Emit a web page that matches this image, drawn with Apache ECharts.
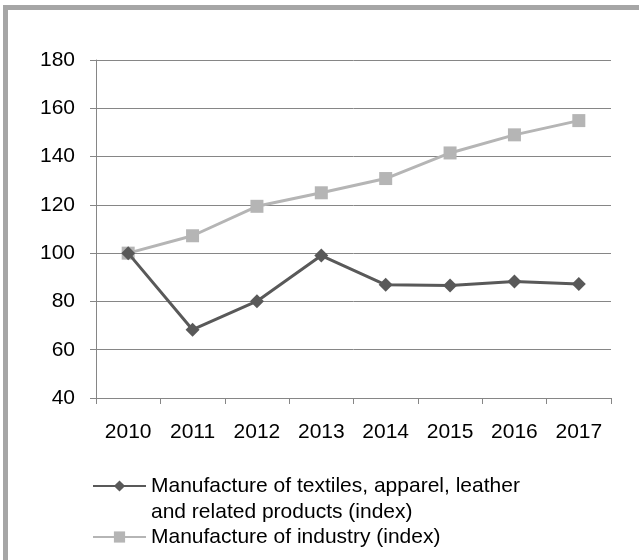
<!DOCTYPE html>
<html>
<head>
<meta charset="utf-8">
<script src="https://cdn.jsdelivr.net/npm/echarts@6/dist/echarts.min.js"></script>
<style>
html,body{margin:0;padding:0;background:#fff;}
#chart{width:639px;height:560px;}
</style>
</head>
<body>
<div id="chart"></div>
<script>
const categories = ['2010','2011','2012','2013','2014','2015','2016','2017'];
const textiles = [100, 68.3, 80.1, 99.0, 86.9, 86.6, 88.3, 87.2];
const industry = [100, 107.2, 119.4, 125.0, 130.9, 141.5, 149.0, 154.9];
const yTicks = {min: 40, max: 180, interval: 20};
const nameTextiles = 'Manufacture of textiles, apparel, leather and related products (index)';
const labelTextiles = '\u00a0\nManufacture of textiles, apparel, leather\nand related products (index)';
const nameIndustry = 'Manufacture of industry (index)';

const chart = echarts.init(document.getElementById('chart'), null, {renderer: 'canvas'});
const font = 'Liberation Sans, Arial, sans-serif';
const axisGray = '#868686';
chart.setOption({
  animation: false,
  backgroundColor: '#ffffff',
  textStyle: {fontFamily: font},
  graphic: [
    {type: 'rect', shape: {x: 3, y: 5, width: 636, height: 5}, style: {fill: '#a6a6a6'}, silent: true},
    {type: 'rect', shape: {x: 3, y: 5, width: 5, height: 555}, style: {fill: '#a6a6a6'}, silent: true}
  ],
  grid: {left: 96, right: 28, top: 60, bottom: 162, containLabel: false},
  xAxis: {
    type: 'category',
    data: categories,
    boundaryGap: true,
    axisLine: {lineStyle: {color: axisGray, width: 1}},
    axisTick: {show: true, length: 6, alignWithLabel: false, lineStyle: {color: axisGray}},
    axisLabel: {color: '#000', fontSize: 21, fontFamily: font, margin: 24}
  },
  yAxis: {
    type: 'value',
    min: yTicks.min, max: yTicks.max, interval: yTicks.interval,
    axisLine: {show: true, lineStyle: {color: axisGray, width: 1}},
    axisTick: {show: true, length: 6, lineStyle: {color: axisGray}},
    splitLine: {show: true, lineStyle: {color: axisGray, width: 1}},
    axisLabel: {color: '#000', fontSize: 21, fontFamily: font, margin: 21}
  },
  legend: [
    {
      data: [nameTextiles],
      orient: 'vertical',
      left: 92, top: 447,
      padding: 0,
      itemWidth: 53, itemHeight: 14,
      formatter: function () { return labelTextiles; },
      textStyle: {color: '#000', fontSize: 21, fontFamily: font, lineHeight: 26}
    },
    {
      data: [nameIndustry],
      orient: 'vertical',
      left: 92, top: 524,
      padding: 0,
      itemWidth: 53, itemHeight: 14,
      textStyle: {color: '#000', fontSize: 21, fontFamily: font, lineHeight: 26}
    }
  ],
  series: [
    {
      name: nameTextiles,
      type: 'line',
      data: textiles,
      color: '#595959',
      lineStyle: {color: '#595959', width: 3},
      itemStyle: {color: '#595959'},
      symbol: 'diamond',
      symbolSize: 14,
      z: 3
    },
    {
      name: nameIndustry,
      type: 'line',
      data: industry,
      color: '#b5b5b5',
      lineStyle: {color: '#b5b5b5', width: 3},
      itemStyle: {color: '#b5b5b5'},
      symbol: 'rect',
      symbolSize: 13,
      z: 2
    }
  ]
});
</script>
</body>
</html>
